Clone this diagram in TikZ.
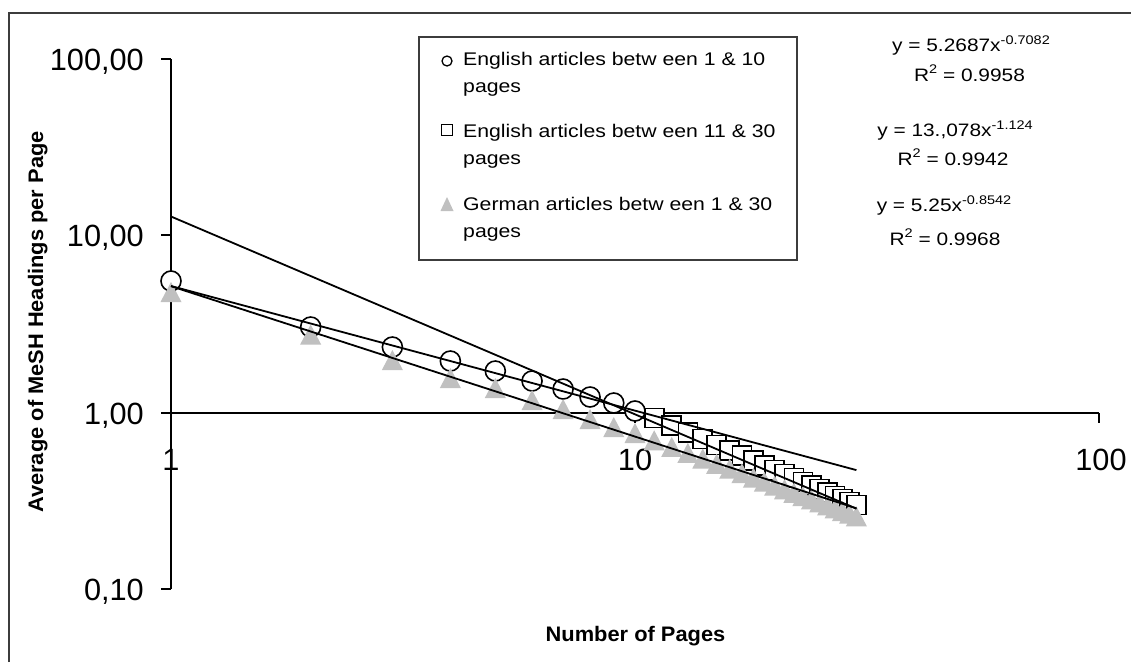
\documentclass[tikz,border=0pt]{standalone}
\usepackage{graphicx}
\usepackage{fontspec}
\setmainfont{Liberation Sans}
\newfontfamily\lgfont[FakeStretch=1.16]{Liberation Sans}
\newfontfamily\ttlfont[FakeStretch=1.04]{Liberation Sans}
\newfontfamily\tickfont{Liberation Sans}
\definecolor{mkgray}{RGB}{192,192,192}
\definecolor{framegray}{RGB}{60,60,60}
\newcommand\sups[1]{\raisebox{0.42em}{\fontsize{12.5}{12.5}\selectfont #1}}
\newcommand\tk[1]{\scalebox{2}{\tickfont\fontsize{15.35pt}{16pt}\selectfont #1}}
\begin{document}
\begin{tikzpicture}[x=1pt,y=-1pt,
  ticklbl/.style={inner sep=0pt},
  lg/.style={font=\lgfont\fontsize{18.3}{18.3}\selectfont, inner sep=0pt, anchor=base west},
  eq/.style={font=\lgfont\fontsize{18}{18}\selectfont, inner sep=0pt, anchor=base},
  ttl/.style={font=\ttlfont\bfseries\fontsize{21}{21}\selectfont, inner sep=0pt, anchor=base},
  axisline/.style={line width=1.2pt, black},
  fitline/.style={line width=1.8pt, black},
  mk/.style={line width=1.6pt, black, fill=white},
  lgmk/.style={line width=1.3pt, black, fill=white},
]
\useasboundingbox (0,0) rectangle (1131,662);
\fill[white] (0,0) rectangle (1131,662);
% outer frame
\draw[line width=1.5pt, framegray] (9,662) -- (9,13) -- (1131,13);
% axes
\draw[axisline] (171,59) -- (171,589);
\foreach \yy in {59,235,413,589} \draw[axisline] (161,\yy) -- (171,\yy);
\draw[axisline] (161,413) -- (1099,413);
\foreach \xx in {635,1099} \draw[axisline] (\xx,413) -- (\xx,423);
% tick labels
\node[ticklbl, anchor=base east] (y100) at (144,70) {\tk{100,00}};
\node[ticklbl, anchor=base east] (y10) at (144,246) {\tk{10,00}};
\node[ticklbl, anchor=base east] (y1) at (144,424) {\tk{1,00}};
\node[ticklbl, anchor=base east] (y01) at (144,600) {\tk{0,10}};
\node[ticklbl, anchor=base] (x1) at (171,470) {\tk{1}};
\node[ticklbl, anchor=base] (x10) at (635,470) {\tk{10}};
\node[ticklbl, anchor=base] (x100) at (1101,470) {\tk{100}};
% axis titles
\node[ttl] (xtitle) at (635.5,641.7) {Number of Pages};
\node[ttl, rotate=90] (ytitle) at (43,322) {Average of MeSH Headings per Page};
% circles (English 1-10)
\foreach \i/\yy in {1/281,2/327,3/347,4/361,5/371,6/381,7/389,8/397,9/403,10/411}{
  \pgfmathsetmacro\cx{171+464*log10(\i)}
  \draw[mk] (\cx,\yy) circle[radius=10];
}
% squares (English 11-30)
\foreach \i in {11,...,30}{
  \pgfmathsetmacro\cx{171+464*log10(\i)}
  \pgfmathsetmacro\cy{418+(\cx-654)*0.4298}
  \draw[mk] (\cx-9.5,\cy-9.5) rectangle (\cx+9.5,\cy+9.5);
}
% triangles (German 1-30)
\foreach \i/\yy in {1/292,2/334.5,3/360,4/378,5/388,6/400,7/409,8/419,9/427,10/433}{
  \pgfmathsetmacro\cx{171+464*log10(\i)}
  \fill[mkgray] (\cx,\yy-10) -- (\cx+10.5,\yy+10) -- (\cx-10.5,\yy+10) -- cycle;
}
\foreach \i in {11,...,30}{
  \pgfmathsetmacro\cx{171+464*log10(\i)}
  \pgfmathsetmacro\cy{258.6+174.44*log10(\i)}
  \fill[mkgray] (\cx,\cy-10) -- (\cx+10.5,\cy+10) -- (\cx-10.5,\cy+10) -- cycle;
}
% trend lines
\coordinate (fa0) at (171,286.0);
\coordinate (fa1) at (856.4,470.1);
\coordinate (fb0) at (171,216.5);
\coordinate (fb1) at (856.4,508.7);
\coordinate (fc0) at (171,286.2);
\coordinate (fc1) at (856.4,508.3);
\draw[fitline] (fa0) -- (fa1);
\draw[fitline] (fb0) -- (fb1);
\draw[fitline] (fc0) -- (fc1);
% legend
\node[draw=framegray, line width=1.3pt, fill=white, minimum width=378pt, minimum height=223pt, inner sep=0pt] (legend) at (608,148.5) {};
\draw[lgmk] (447,61) circle[radius=5];
\draw[lgmk] (441.5,124.5) rectangle (452.5,135.5);
\fill[mkgray] (447,197) -- (453.5,211) -- (440.5,211) -- cycle;
\node[lg] (l1a) at (463,65) {English articles betw een 1 \& 10};
\node[lg] (l1b) at (463,92) {pages};
\node[lg] (l2a) at (463,137) {English articles betw een 11 \& 30};
\node[lg] (l2b) at (463,164) {pages};
\node[lg] (l3a) at (463,210) {German articles betw een 1 \& 30};
\node[lg] (l3b) at (463,237) {pages};
% equations
\node[eq] (e1a) at (971,51.7) {y = 5.2687x\sups{-0.7082}};
\node[eq] (e1b) at (969.5,81) {R\sups{2} = 0.9958};
\node[eq] (e2a) at (955,136.7) {y = 13.,078x\sups{-1.124}};
\node[eq] (e2b) at (953,165) {R\sups{2} = 0.9942};
\node[eq] (e3a) at (944,211.7) {y = 5.25x\sups{-0.8542}};
\node[eq] (e3b) at (945,245) {R\sups{2} = 0.9968};
\end{tikzpicture}
\end{document}
